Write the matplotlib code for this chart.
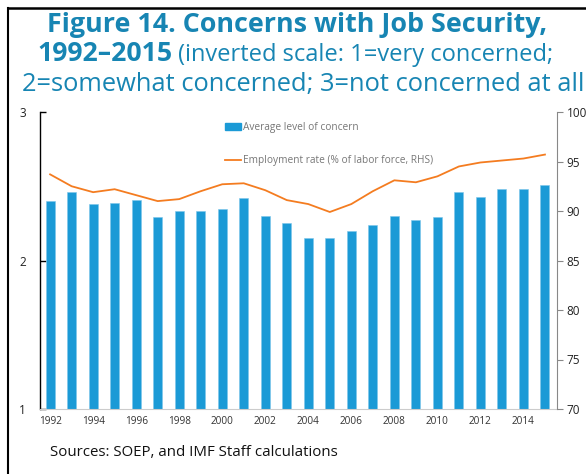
import matplotlib
matplotlib.use('Agg')
import matplotlib.pyplot as plt
from matplotlib.lines import Line2D

# data
years = list(range(1992, 2016))
concern = [2.40, 2.46, 2.38, 2.39, 2.41, 2.29, 2.33, 2.33, 2.35, 2.42, 2.30, 2.25,
           2.15, 2.15, 2.20, 2.24, 2.30, 2.27, 2.29, 2.46, 2.43, 2.48, 2.48, 2.51]
employment = [93.7, 92.5, 91.9, 92.2, 91.6, 91.0, 91.2, 92.0, 92.7, 92.8, 92.1, 91.1,
              90.7, 89.9, 90.7, 92.0, 93.1, 92.9, 93.5, 94.5, 94.9, 95.1, 95.3, 95.7]
xtick_years = list(range(1992, 2016, 2))

title_color = '#1785b3'
bar_color = '#1b9ad6'
line_color = '#f47c20'
font = 'Open Sans'

plt.rcParams['font.family'] = [font, 'DejaVu Sans']

W, H = 586, 474
fig = plt.figure(figsize=(W / 100, H / 100), dpi=100)

ax = fig.add_axes([40 / W, 1 - 409 / H, (557 - 40) / W, (409 - 112) / H])
ax2 = ax.twinx()

ax.bar(years, concern, width=0.42, color=bar_color, edgecolor='#7cc6ea', linewidth=0.4, zorder=2)
ax2.plot(years, employment, color=line_color, lw=1.3)

ax.set_xlim(1991.53, 2015.56)
ax.set_ylim(1, 3)
ax2.set_ylim(70, 100)
ax.set_yticks([1, 2, 3])
ax2.set_yticks([70, 75, 80, 85, 90, 95, 100])
ax.set_xticks(xtick_years)
ax.set_xticklabels([str(y) for y in xtick_years])

for a in (ax, ax2):
    a.spines['top'].set_visible(False)
ax.spines['right'].set_visible(False)
ax.spines['left'].set_color('black')
ax.spines['left'].set_linewidth(1.0)
ax.spines['bottom'].set_color('#cccccc')
ax2.spines['left'].set_visible(False)
ax2.spines['bottom'].set_visible(False)
ax2.spines['right'].set_color('#888888')
ax2.spines['right'].set_linewidth(0.8)

ax.tick_params(axis='y', direction='in', length=4, width=1, colors='black',
               labelsize=8.5, pad=10, labelcolor='#222222')
ax.tick_params(axis='x', length=0, labelsize=7.2, pad=5, labelcolor='#333333')
ax2.tick_params(axis='y', direction='out', length=4, width=0.8, color='#888888',
                labelsize=8.5, pad=3, labelcolor='#222222')

handles = [plt.Rectangle((0, 0), 1, 1, color=bar_color),
           Line2D([0], [0], color=line_color, lw=1.3)]
labels = ['Average level of concern', 'Employment rate (% of labor force, RHS)']
fig.legend(handles, labels, loc='upper left', bbox_to_anchor=(216 / W, 1 - 113 / H),
           frameon=False, fontsize=7.3, labelcolor='#777777', handlelength=1.6,
           handleheight=0.65, handletextpad=0.2, labelspacing=2.2)

# title, partly bold
renderer = fig.canvas.get_renderer()
fig.text(47 / W, 1 - 32 / H, 'Figure 14. Concerns with Job Security,', color=title_color,
         fontsize=19.4, fontweight='bold', ha='left', va='baseline')
t_bold = fig.text(37 / W, 1 - 61 / H, '1992\u20132015', color=title_color,
                  fontsize=19.2, fontweight='bold', ha='left', va='baseline')
bb = t_bold.get_window_extent(renderer)
fig.text((bb.x1 + 6) / W, 1 - 61 / H, '(inverted scale: 1=very concerned;', color=title_color,
         fontsize=17, ha='left', va='baseline')
fig.text(22 / W, 1 - 91 / H, '2=somewhat concerned; 3=not concerned at all', color=title_color,
         fontsize=18.4, ha='left', va='baseline')

fig.text(50 / W, 1 - 456 / H, 'Sources: SOEP, and IMF Staff calculations', color='#111111',
         fontsize=10.8, ha='left', va='baseline')

# frame lines top and left
fig.add_artist(Line2D([8 / W, 1], [1 - 7.5 / H, 1 - 7.5 / H], color='black', lw=1.8,
                      transform=fig.transFigure))
fig.add_artist(Line2D([8 / W, 8 / W], [0, 1 - 7.5 / H], color='black', lw=1.5,
                      transform=fig.transFigure))

fig.savefig('out.png', dpi=100)
